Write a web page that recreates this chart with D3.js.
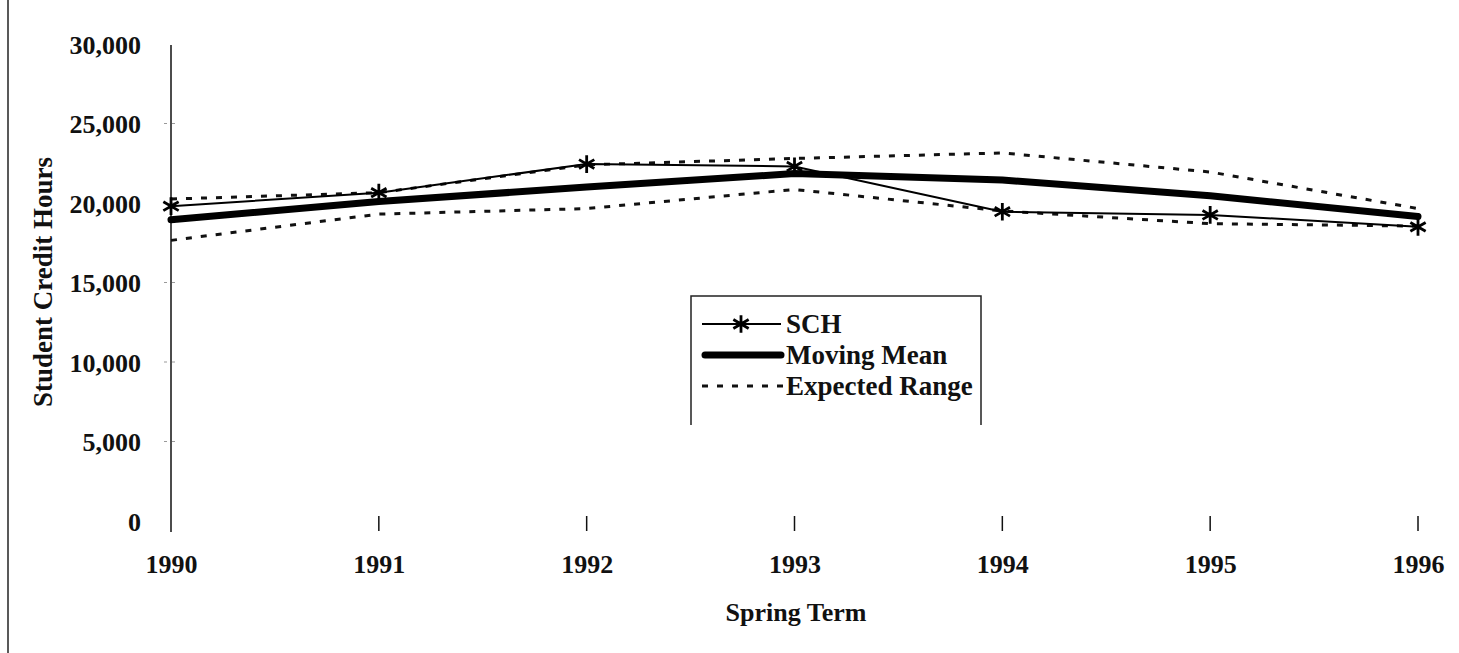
<!DOCTYPE html>
<html>
<head>
<meta charset="utf-8">
<script src="https://cdn.jsdelivr.net/npm/d3@7"></script>
<style>
  html, body { margin: 0; padding: 0; background: #fff; }
  text { font-family: "Liberation Serif", "Times New Roman", serif; font-weight: bold; fill: #111; }
</style>
</head>
<body>
<svg id="chart" width="1459" height="653"></svg>
<script>
const years = ["1990", "1991", "1992", "1993", "1994", "1995", "1996"];
const sch = [19800, 20650, 22450, 22300, 19450, 19250, 18500];
const movingMean = [18950, 20100, 21000, 21850, 21450, 20450, 19150];
const upperRange = [20250, 20650, 22400, 22800, 23150, 21950, 19650];
const lowerRange = [17650, 19300, 19650, 20850, 19500, 18700, 18550];
const yTicks = [0, 5000, 10000, 15000, 20000, 25000, 30000];
const legendLabels = ["SCH", "Moving Mean", "Expected Range"];

const svg = d3.select("#chart");
const x = d3.scalePoint().domain(years).range([171, 1418]);
const y = d3.scaleLinear().domain([0, 30000]).range([521, 44]);
const fmt = d3.format(",");

// scan page edge
svg.append("line").attr("x1", 8).attr("x2", 8).attr("y1", 0).attr("y2", 653)
  .attr("stroke", "#222").attr("stroke-width", 1.5);

// Y axis
const yAxis = d3.axisLeft(y).tickValues(yTicks).tickFormat(fmt).tickSize(0).tickPadding(30);
const gy = svg.append("g").attr("transform", "translate(171,0)").call(yAxis);
gy.select(".domain").remove();
gy.selectAll("text").style("font-size", "26px").attr("dy", "0.35em");
svg.append("line").attr("x1", 171).attr("x2", 171).attr("y1", 45).attr("y2", 532)
  .attr("stroke", "#111").attr("stroke-width", 1.5);
// faint y ticks
svg.append("g").selectAll("line").data(yTicks.filter(d => d > 0 && d < 30000)).join("line")
  .attr("x1", 164).attr("x2", 178).attr("y1", d => y(d)).attr("y2", d => y(d))
  .attr("stroke", "#999").attr("stroke-width", 1).attr("stroke-dasharray", "3,5");

// X axis (ticks only)
const xAxis = d3.axisBottom(x).tickSize(0).tickPadding(0);
const gx = svg.append("g").attr("transform", "translate(0,521)").call(xAxis);
gx.select(".domain").remove();
gx.selectAll("text").style("font-size", "26px").attr("y", 52).attr("dy", "0");
svg.append("g").selectAll("line").data(years.slice(1)).join("line")
  .attr("x1", d => x(d)).attr("x2", d => x(d)).attr("y1", 516).attr("y2", 531)
  .attr("stroke", "#111").attr("stroke-width", 1.5);

// axis titles
svg.append("text").attr("transform", "translate(52,282) rotate(-90)")
  .attr("text-anchor", "middle").style("font-size", "27px").text("Student Credit Hours");
svg.append("text").attr("x", 796).attr("y", 621).attr("text-anchor", "middle")
  .style("font-size", "26px").text("Spring Term");

const line = d3.line().x((d, i) => x(years[i])).y(d => y(d));

// expected range
[upperRange, lowerRange].forEach(arr => {
  svg.append("path").datum(arr).attr("d", line).attr("fill", "none")
    .attr("stroke", "#111").attr("stroke-width", 3).attr("stroke-dasharray", "6,9");
});
// moving mean
svg.append("path").datum(movingMean).attr("d", line).attr("fill", "none")
  .attr("stroke", "#000").attr("stroke-width", 7).attr("stroke-linecap", "round").attr("stroke-linejoin", "round");
// SCH
svg.append("path").datum(sch).attr("d", line).attr("fill", "none")
  .attr("stroke", "#000").attr("stroke-width", 2);
const star = d3.symbol().type(d3.symbolAsterisk).size(220);
svg.append("g").selectAll("path").data(sch).join("path")
  .attr("transform", (d, i) => `translate(${x(years[i])},${y(d)})`)
  .attr("d", star).attr("fill", "none").attr("stroke", "#000").attr("stroke-width", 2.8);

// legend
const lg = svg.append("g");
lg.append("path").attr("d", "M691,425 L691,296 L981,296 L981,425").attr("fill", "none")
  .attr("stroke", "#222").attr("stroke-width", 1.5);
const rows = [324, 355, 386];
lg.append("line").attr("x1", 702).attr("x2", 781).attr("y1", rows[0]).attr("y2", rows[0])
  .attr("stroke", "#000").attr("stroke-width", 2);
lg.append("path").attr("transform", `translate(741,${rows[0]})`).attr("d", star)
  .attr("fill", "none").attr("stroke", "#000").attr("stroke-width", 2.8);
lg.append("line").attr("x1", 705).attr("x2", 781).attr("y1", rows[1]).attr("y2", rows[1])
  .attr("stroke", "#000").attr("stroke-width", 7).attr("stroke-linecap", "round");
lg.append("line").attr("x1", 702).attr("x2", 783).attr("y1", rows[2]).attr("y2", rows[2])
  .attr("stroke", "#111").attr("stroke-width", 3).attr("stroke-dasharray", "6,9");
lg.selectAll("text").data(legendLabels).join("text")
  .attr("x", 786).attr("y", (d, i) => rows[i]).attr("dy", "0.35em")
  .style("font-size", "27px").text(d => d);
</script>
</body>
</html>
